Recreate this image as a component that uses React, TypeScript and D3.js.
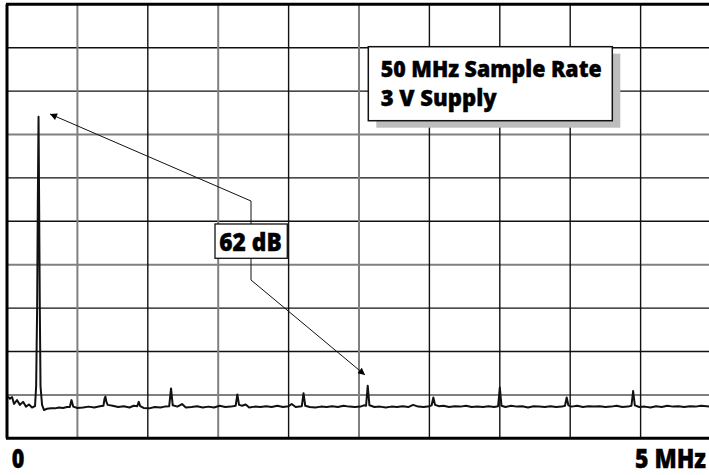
import React from "react";
import * as d3 from "d3";

// Frequency axis (MHz) and level axis (dB)
const freqDomain = [0, 5];
const dbDomain = [-100, 0];
const vGridFreq = [0.5, 1, 1.5, 2, 2.5, 3, 3.5, 4, 4.5];
const vGridDark = [false, true, false, true, false, true, true, true, true];
const hGridDb = [-10, -20, -30, -40, -50, -60, -70, -80, -90];
const hGridDark = [true, true, false, true, true, false, true, true, false];

const axisLabels = ["0", "5 MHz"];
const infoLines = ["50 MHz Sample Rate", "3 V Supply"];
const sfdrLabel = "62 dB";

// FFT trace
const traceFreq = [
  0.007, 0.021, 0.036, 0.05, 0.071, 0.092, 0.114, 0.135, 0.156, 0.178, 0.199,
  0.207, 0.214, 0.219, 0.224, 0.228, 0.233, 0.238,
  0.249, 0.263, 0.284, 0.312, 0.341, 0.369, 0.398, 0.426,
  0.446, 0.458, 0.47, 0.5, 0.54, 0.58, 0.62, 0.66,
  0.685, 0.693, 0.699, 0.706, 0.715, 0.75, 0.79, 0.83, 0.87, 0.9,
  0.925, 0.936, 0.946, 0.97, 1.01, 1.05, 1.09, 1.12,
  1.152, 1.165, 1.177, 1.21, 1.243, 1.27, 1.31, 1.35, 1.39, 1.43, 1.47, 1.51, 1.55, 1.59,
  1.624, 1.636, 1.648, 1.67, 1.695, 1.72, 1.76, 1.8, 1.84, 1.88, 1.92, 1.96, 2.0,
  2.022, 2.05, 2.094, 2.106, 2.118, 2.15, 2.19, 2.23, 2.27, 2.31, 2.35, 2.39, 2.43, 2.47, 2.51,
  2.535, 2.55, 2.562, 2.574, 2.61, 2.65, 2.69, 2.73, 2.77, 2.81, 2.85,
  2.884, 2.92, 2.96, 3.0, 3.016, 3.028, 3.04, 3.07, 3.1, 3.14, 3.18, 3.22, 3.26, 3.3, 3.34, 3.38, 3.42, 3.46,
  3.488, 3.5, 3.512, 3.54, 3.58, 3.62, 3.66, 3.7, 3.74, 3.78, 3.82, 3.86, 3.9, 3.94,
  3.963, 3.975, 3.987, 4.01, 4.05, 4.09, 4.13, 4.17, 4.21, 4.25, 4.29, 4.33, 4.37, 4.41,
  4.435, 4.447, 4.459, 4.49, 4.53, 4.57, 4.61, 4.65, 4.69, 4.73, 4.77, 4.81, 4.85, 4.89, 4.93, 4.97, 5.0,
];
const traceDb = [
  -90.4, -90.9, -90.5, -92.1, -91.2, -92.3, -91.6, -92.7, -92.2, -92.9, -92.6,
  -88, -70, -45, -25.9, -45, -70, -88,
  -92.3, -93.5, -93.2, -93.1, -93.1, -92.9, -93.0, -92.8,
  -92.8, -91.2, -92.7, -93.0, -92.9, -92.7, -92.9, -92.6,
  -92.5, -90.8, -90.4, -91.6, -92.3, -92.5, -92.8, -92.6, -92.9, -92.5,
  -92.6, -91.6, -92.6, -93.0, -93.1, -92.8, -92.9, -92.7,
  -92.6, -88.5, -92.4, -92.7, -92.1, -92.9, -92.8, -92.6, -92.9, -92.7, -92.9, -92.5, -92.8, -92.7,
  -92.5, -89.9, -92.3, -92.5, -92.2, -92.9, -92.7, -92.8, -92.6, -92.8, -92.5, -92.8, -92.6,
  -92.1, -92.8, -92.6, -89.6, -92.5, -92.8, -92.9, -92.7, -92.8, -92.6, -92.8, -92.5, -92.7, -92.8, -92.7,
  -92.4, -92.5, -87.9, -92.4, -92.8, -92.7, -92.9, -92.7, -92.8, -92.6, -92.8,
  -92.3, -92.7, -92.8, -92.6, -92.4, -90.6, -92.3, -92.6, -92.5, -92.8, -92.6, -92.7, -92.5, -92.8, -92.7, -92.8, -92.6, -92.8,
  -92.6, -88.3, -92.5, -92.8, -92.5, -92.7, -92.6, -92.9, -92.6, -92.7, -92.8, -92.6, -92.8, -92.7,
  -92.5, -90.6, -92.4, -92.7, -92.5, -92.8, -92.6, -92.7, -92.6, -92.8, -92.7, -92.5, -92.8, -92.7,
  -92.5, -89.1, -92.4, -92.8, -92.7, -92.9, -92.6, -92.8, -92.5, -92.7, -92.6, -92.8, -92.6, -92.7, -92.5, -92.6, -92.7,
];

const FONT = "'Open Sans', 'Liberation Sans', sans-serif";

export default function App() {
  const W = 709;
  const H = 475;
  const x = d3.scaleLinear().domain(freqDomain).range([7, 711]);
  const y = d3.scaleLinear().domain(dbDomain).range([438.3, 4.3]);

  const pts: [number, number][] = traceFreq.map((f, i) => [x(f), y(traceDb[i])]);
  const line = d3.line<[number, number]>().x((d) => d[0]).y((d) => d[1]);

  const textStyle = {
    fontFamily: FONT,
    fontWeight: 800,
    fill: "#000",
    stroke: "#000",
    strokeWidth: 0.4,
  } as const;

  return (
    <svg
      width={W}
      height={H}
      viewBox={`0 0 ${W} ${H}`}
      style={{ position: "absolute", left: 0, top: 0, background: "#fff" }}
    >
      <defs>
        <marker
          id="ah"
          viewBox="0 0 10 10"
          refX="10"
          refY="5"
          markerWidth="11"
          markerHeight="7"
          markerUnits="userSpaceOnUse"
          orient="auto"
        >
          <path d="M0,0 L10,5 L0,10 Z" fill="#000" />
        </marker>
      </defs>
      <rect x={0} y={0} width={W} height={H} fill="#fff" />

      {/* grid */}
      {hGridDb.map((v, i) => (
        <line
          key={"h" + v}
          x1={x(0)}
          x2={x(5)}
          y1={y(v)}
          y2={y(v)}
          stroke={hGridDark[i] ? "#111" : "#808080"}
          strokeWidth={hGridDark[i] ? 1.4 : 2}
        />
      ))}
      {vGridFreq.map((v, i) => (
        <line
          key={"v" + v}
          x1={x(v)}
          x2={x(v)}
          y1={y(0)}
          y2={y(-100)}
          stroke={vGridDark[i] ? "#111" : "#808080"}
          strokeWidth={vGridDark[i] ? 1.4 : 2}
        />
      ))}
      {/* frame */}
      <line x1={x(0) - 1} x2={x(5)} y1={y(0)} y2={y(0)} stroke="#000" strokeWidth={3} />
      <line x1={x(0) - 1} x2={x(5)} y1={y(-100)} y2={y(-100)} stroke="#000" strokeWidth={3} />
      <line x1={x(0)} x2={x(0)} y1={y(0)} y2={y(-100)} stroke="#000" strokeWidth={3} />

      {/* trace */}
      <path d={line(pts) || ""} fill="none" stroke="#111" strokeWidth={2} strokeLinejoin="round" />

      {/* info box */}
      <rect x={376.3} y={53.7} width={244} height={74} fill="#bdbdbd" />
      <rect x={368.3} y={46.7} width={244} height={74} fill="#fff" stroke="#111" strokeWidth={1.5} />
      <text x={380.7} y={76.7} fontSize={23.5} textLength={221} lengthAdjust="spacingAndGlyphs" style={textStyle}>
        {infoLines[0]}
      </text>
      <text x={380.7} y={106} fontSize={23.5} textLength={116} lengthAdjust="spacingAndGlyphs" style={textStyle}>
        {infoLines[1]}
      </text>

      {/* 62 dB callout */}
      <polyline
        points="251,224 251,201 50,114"
        fill="none"
        stroke="#111"
        strokeWidth={1}
        markerEnd="url(#ah)"
      />
      <polyline
        points="251,258.3 251,280 365,375"
        fill="none"
        stroke="#111"
        strokeWidth={1}
        markerEnd="url(#ah)"
      />
      <rect x={215} y={224} width={72.3} height={34.3} fill="#fff" stroke="#111" strokeWidth={1.3} />
      <text x={219.3} y={250.7} fontSize={24} textLength={62.4} lengthAdjust="spacingAndGlyphs" style={textStyle}>
        {sfdrLabel}
      </text>

      {/* axis labels */}
      <text x={11.7} y={468.3} fontSize={26.5} textLength={12.6} lengthAdjust="spacingAndGlyphs" style={textStyle}>
        {axisLabels[0]}
      </text>
      <g transform="translate(706,468.3) scale(0.87,1)">
        <text x={0} y={0} fontSize={26.5} textAnchor="end" style={textStyle}>
          {axisLabels[1]}
        </text>
      </g>
    </svg>
  );
}
